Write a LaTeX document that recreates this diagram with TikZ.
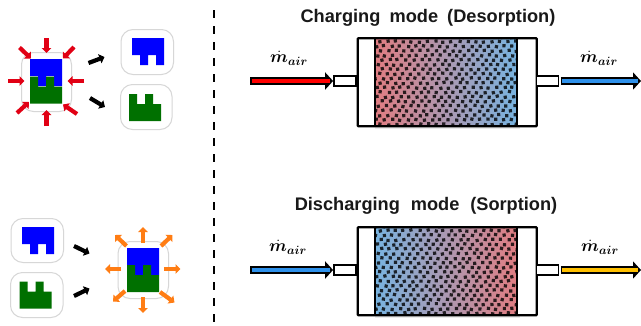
\documentclass[tikz,border=0pt]{standalone}
\usepackage{fontspec}
\usepackage{bm}
\setmainfont{Liberation Sans}
\usetikzlibrary{arrows.meta}
\definecolor{sblue}{RGB}{0,0,255}
\definecolor{sgreen}{RGB}{0,112,0}
\definecolor{sred}{RGB}{225,0,20}
\definecolor{sorange}{RGB}{255,125,20}
\definecolor{airred}{RGB}{255,0,0}
\definecolor{airblue}{RGB}{46,145,235}
\definecolor{airamber}{RGB}{255,192,0}
\definecolor{bedred}{RGB}{225,125,130}
\definecolor{bedblue}{RGB}{120,180,225}
\definecolor{framegray}{RGB}{215,215,215}
\tikzset{
  x=1pt,y=-1pt,
  holder/.style={draw=framegray,line width=1pt,rounded corners=12pt,fill=white,inner sep=0pt,anchor=north west},
  block/.style={line width=4.2pt,-{Triangle[length=5pt,width=9.5pt]}},
  vessel/.style={draw=black,line width=2.4pt,inner sep=0pt,rounded corners=0.8pt,minimum width=179pt,minimum height=88pt,anchor=north west},
  tube/.style={draw=black,fill=white,line width=1.8pt,inner sep=0pt,minimum width=22pt,minimum height=10pt,anchor=center},
  flowline/.style={black,line width=7.5pt,-{Triangle[length=8pt,width=17pt]}},
  title/.style={font=\bfseries\fontsize{18.2}{20}\selectfont,anchor=center,text=black!90},
  flowlabel/.style={font=\fontsize{18}{20}\selectfont,anchor=center},
}
\newcommand{\blueshape}[2]{\fill[sblue,shift={(#1,#2)}] (0,0)--(32,0)--(32,27)--(24,27)--(24,17)--(16,17)--(16,27)--(8,27)--(8,17)--(0,17)--cycle;}
\newcommand{\greenshape}[2]{\fill[sgreen,shift={(#1,#2)}] (0,0)--(8,0)--(8,10)--(16,10)--(16,0)--(24,0)--(24,10)--(32,10)--(32,27)--(0,27)--cycle;}
\newcommand{\holderbox}[5]{\node[holder,minimum width=#4pt,minimum height=#5pt] (#1) at (#2,#3) {};}
% #1 prefix, #2 top y, #3 left bed colour, #4 right bed colour, #5 in colour, #6 out colour, #7 seed
\newcommand{\bedpanel}[7]{
  \fill[black!8] (375,#2+88) rectangle (520,#2+92);
  \shade[left color=#3,right color=#4] (375,#2) rectangle (517,#2+88);
  \begin{scope}
    \clip (375,#2) rectangle (517,#2+88);
    \pgfmathsetseed{#7}
    \foreach \i in {-3,...,18}{
      \foreach \j in {0,...,19}{
        \pgfmathsetmacro{\px}{375+\i*8+mod(\j,2)*4+\j*0.5+rand*0.9}
        \pgfmathsetmacro{\py}{#2+\j*4.6+rand*0.7}
        \pgfmathsetmacro{\pa}{rand*14}
        \fill[black,opacity=.8,rotate around={\pa:(\px,\py)}] (\px-1.6,\py-1.6) rectangle (\px+1.6,\py+1.6);
      }
    }
  \end{scope}
  \node[vessel] (#1v) at (356.5,#2) {};
  \draw[black,line width=1.6pt] (375,#2) -- (375,#2+88) (517,#2) -- (517,#2+88);
  \node[tube] (#1i) at (345,#2+44) {};
  \node[tube] (#1o) at (547.5,#2+44) {};
  \coordinate (#1a) at (250,#2+44);
  \coordinate (#1b) at (641,#2+44);
  \draw[flowline] (#1a) -- (#1i.west);
  \draw[#5,line width=4pt,shorten <=1.5pt,shorten >=3pt] (#1a) -- (#1i.west);
  \draw[flowline,shorten <=1.5pt] (#1o.east) -- (#1b);
  \draw[#6,line width=4pt,shorten <=3pt,shorten >=3pt] (#1o.east) -- (#1b);
}
\begin{document}
\begin{tikzpicture}
\useasboundingbox (0,0) rectangle (641,325);
\fill[white] (0,0) rectangle (641,325);

% divider
\coordinate (dtop) at (213.5,10);
\coordinate (dbot) at (213.5,323);
\draw[black,line width=2pt,dash pattern=on 8pt off 8pt] (dtop) -- (dbot);

% upper left
\holderbox{ca}{21}{52}{50}{59}
\fill[sblue] (30,59) rectangle (62,70);
\blueshape{30}{59}
\greenshape{30}{76.5}
\holderbox{ba}{120.5}{29}{52.5}{45}
\blueshape{132}{38}
\holderbox{ga}{120}{84}{51.5}{45}
\greenshape{129}{94}
\foreach \a/\b/\c/\d in {46.5/38/46.5/53, 46.5/126/46.5/110, 8/81/24.5/81, 84/81/67.5/81, 19.5/47.5/31/58.5, 74/47/63/58.5, 17/113/29/102, 77/114/63/104.5}{
  \coordinate (rs) at (\a,\b); \coordinate (re) at (\c,\d);
  \draw[block,sred] (rs) -- (re);
}
\foreach \a/\b/\c/\d in {88.5/63/104.5/57, 90/98/105/107, 74/246/89.5/253.5, 74/296/89.5/288.5}{
  \coordinate (ks) at (\a,\b); \coordinate (ke) at (\c,\d);
  \draw[block,black] (ks) -- (ke);
}

% lower left
\holderbox{bb}{10.5}{218}{52.5}{44}
\blueshape{22}{227}
\holderbox{gb}{10}{272}{52.5}{45}
\greenshape{19.5}{281.5}
\holderbox{cb}{117.5}{241}{50.5}{57}
\blueshape{127}{248}
\greenshape{127}{265}
\foreach \a/\b/\c/\d in {143/243/143/227, 143/297/143/313, 121/269/105/269, 164/269/180.5/269, 126.5/246/115/235, 161/246/172.5/235, 125/291/113/301.5, 160/292/174.5/302.5}{
  \coordinate (os) at (\a,\b); \coordinate (oe) at (\c,\d);
  \draw[block,sorange] (os) -- (oe);
}

% beds
\bedpanel{up}{37}{bedred}{bedblue}{airred}{airblue}{7}
\bedpanel{lo}{226}{bedblue}{bedred}{airblue}{airamber}{23}

% texts
\node[title] (t1) at (428,18) {\spaceskip=0.5em Charging mode (Desorption)};
\node[title] (t2) at (426,206) {\spaceskip=0.6em Discharging mode (Sorption)};
\node[flowlabel] (m1) at (289,58) {$\dot{\bm{m}}_{\bm{air}}$};
\node[flowlabel] (m2) at (599,58) {$\dot{\bm{m}}_{\bm{air}}$};
\node[flowlabel] (m3) at (288,247) {$\dot{\bm{m}}_{\bm{air}}$};
\node[flowlabel] (m4) at (600,247) {$\dot{\bm{m}}_{\bm{air}}$};
\end{tikzpicture}
\end{document}
